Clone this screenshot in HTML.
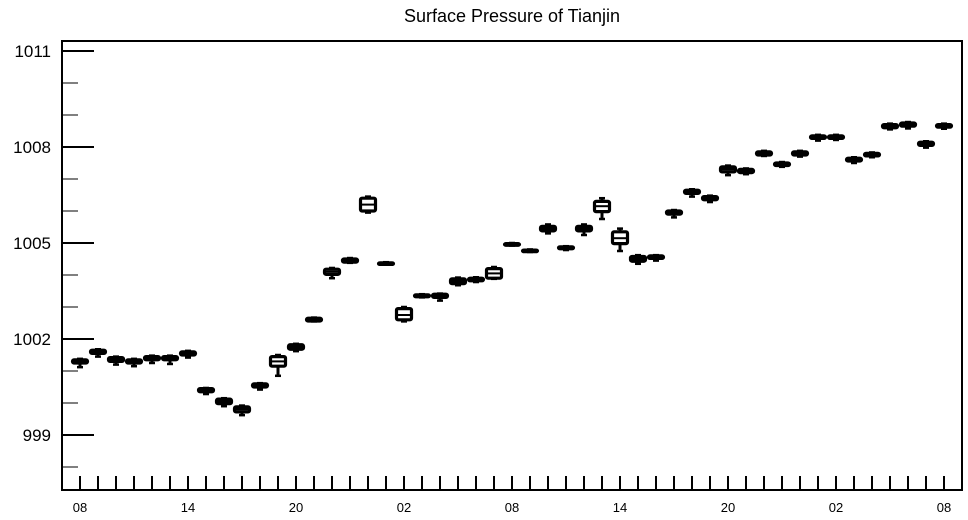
<!DOCTYPE html>
<html><head><meta charset="utf-8"><style>
html,body{margin:0;padding:0;background:#fff;width:968px;height:520px;overflow:hidden}
svg text{font-family:"Liberation Sans",sans-serif;fill:#000}
</style></head><body>
<svg id="chart" width="968" height="520" xmlns="http://www.w3.org/2000/svg">
<text x="512" y="22" font-size="18" text-anchor="middle">Surface Pressure of Tianjin</text>
<rect x="62" y="41" width="900" height="449" fill="none" stroke="#000" stroke-width="2"/>
<g id="axes"></g>
<g id="boxes"></g>
</svg>
<script>
const hourLabels = ["08","14","20","02","08","14","20","02","08"];
const yTicks = [999,1002,1005,1008,1011];
const med = [1001.3,1001.6,1001.35,1001.3,1001.4,1001.4,1001.55,1000.4,1000.05,999.8,1000.55,1001.3,1001.75,1002.6,1004.1,1004.45,1006.2,1004.35,1002.75,1003.35,1003.35,1003.8,1003.85,1004.05,1004.95,1004.75,1005.45,1004.85,1005.45,1006.15,1005.15,1004.5,1004.55,1005.95,1006.6,1006.4,1007.3,1007.25,1007.8,1007.45,1007.8,1008.3,1008.3,1007.6,1007.75,1008.65,1008.7,1008.1,1008.65];
const q1 = [1001.25,1001.55,1001.3,1001.25,1001.35,1001.35,1001.5,1000.35,999.98,999.72,1000.5,1001.15,1001.68,1002.56,1004.02,1004.4,1006.0,1004.33,1002.6,1003.32,1003.3,1003.73,1003.82,1003.9,1004.93,1004.73,1005.38,1004.82,1005.38,1005.98,1004.98,1004.43,1004.52,1005.9,1006.55,1006.35,1007.22,1007.2,1007.75,1007.42,1007.75,1008.27,1008.27,1007.56,1007.72,1008.6,1008.65,1008.05,1008.62];
const q3 = [1001.35,1001.65,1001.42,1001.35,1001.45,1001.45,1001.6,1000.45,1000.12,999.88,1000.6,1001.45,1001.82,1002.65,1004.18,1004.5,1006.4,1004.38,1002.95,1003.38,1003.4,1003.88,1003.9,1004.2,1004.98,1004.78,1005.52,1004.88,1005.52,1006.3,1005.35,1004.58,1004.6,1006.0,1006.65,1006.45,1007.38,1007.3,1007.85,1007.5,1007.85,1008.35,1008.35,1007.65,1007.8,1008.7,1008.75,1008.15,1008.7];
const lo = [1001.12,1001.45,1001.2,1001.15,1001.25,1001.22,1001.42,1000.28,999.9,999.62,1000.42,1000.85,1001.62,1002.55,1003.9,1004.38,1005.95,1004.32,1002.55,1003.3,1003.2,1003.68,1003.78,1003.88,1004.92,1004.72,1005.3,1004.78,1005.25,1005.75,1004.75,1004.35,1004.45,1005.8,1006.45,1006.28,1007.12,1007.15,1007.72,1007.38,1007.7,1008.2,1008.22,1007.5,1007.68,1008.55,1008.58,1007.98,1008.57];
const hi = [1001.38,1001.68,1001.45,1001.38,1001.48,1001.48,1001.63,1000.47,1000.15,999.92,1000.62,1001.5,1001.85,1002.67,1004.22,1004.53,1006.45,1004.4,1003.0,1003.4,1003.42,1003.92,1003.93,1004.25,1005.0,1004.8,1005.58,1004.9,1005.58,1006.4,1005.45,1004.62,1004.62,1006.03,1006.68,1006.48,1007.42,1007.33,1007.88,1007.53,1007.88,1008.38,1008.38,1007.68,1007.83,1008.73,1008.78,1008.18,1008.73];

const NS="http://www.w3.org/2000/svg";
const X = i => 80 + i*18;
const Y = v => 51 + (1011 - v)*32;
function mk(tag, attrs, parent){const e=document.createElementNS(NS,tag);for(const k in attrs)e.setAttribute(k,attrs[k]);parent.appendChild(e);return e;}
const axes=document.getElementById('axes');
for(let v=998; v<=1011; v++){
  const major = yTicks.includes(v);
  const t = mk('line',{x1:62,x2:major?94:78,y1:Y(v),y2:Y(v),stroke:'#000','stroke-width':major?2:1},axes);
  
  
}
yTicks.forEach(v=>{
  const t=mk('text',{x:51,y:Y(v)+6,'font-size':17,'text-anchor':'end'},axes);
  t.textContent=v;
  
  
});
for(let i=0;i<med.length;i++){
  const t=mk('line',{x1:X(i),x2:X(i),y1:490,y2:476,stroke:'#000','stroke-width':2},axes);
  
  
}
hourLabels.forEach((s,j)=>{
  const t=mk('text',{x:X(j*6),y:512,'font-size':13,'text-anchor':'middle'},axes);
  t.textContent=s;
  
  
});
const bg=document.getElementById('boxes');
for(let i=0;i<med.length;i++){
  const g=mk('g',{},bg);
  
  
  const x=X(i);
  mk('line',{x1:x,x2:x,y1:Y(hi[i]),y2:Y(lo[i]),stroke:'#000','stroke-width':3},g);
  mk('line',{x1:x-3,x2:x+3,y1:Y(lo[i]),y2:Y(lo[i]),stroke:'#000','stroke-width':2.5},g);
  mk('line',{x1:x-3,x2:x+3,y1:Y(hi[i]),y2:Y(hi[i]),stroke:'#000','stroke-width':2.5},g);
  const yt=Y(q3[i]), yb=Y(q1[i]);
  mk('rect',{x:x-7.5,y:yt,width:15,height:Math.max(yb-yt,0.5),fill:'#fff',stroke:'#000','stroke-width':3.2,rx:1.5},g);
  mk('line',{x1:x-7.5,x2:x+7.5,y1:Y(med[i]),y2:Y(med[i]),stroke:'#000','stroke-width':2},g);
}
</script>
</body></html>
